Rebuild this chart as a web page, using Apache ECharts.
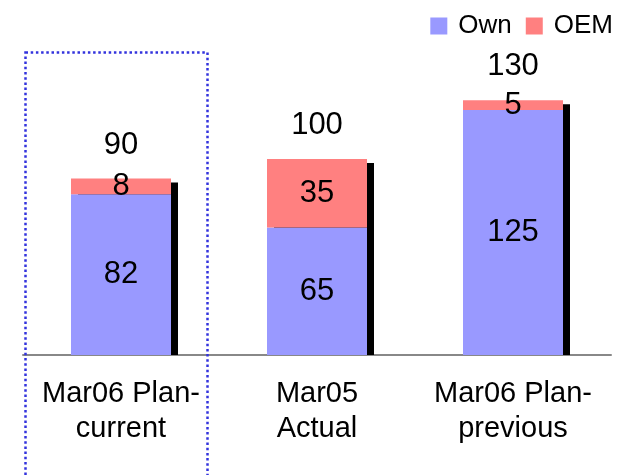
<!DOCTYPE html>
<html>
<head>
<meta charset="utf-8">
<script src="https://cdn.jsdelivr.net/npm/echarts@6/dist/echarts.min.js"></script>
<style>
  html, body { margin: 0; padding: 0; background: #fff; }
  #chart { width: 624px; height: 475px; }
</style>
</head>
<body>
<div id="chart"></div>
<script>
// Categories and stacked values
const categories = ['Mar06 Plan-\ncurrent', 'Mar05\nActual', 'Mar06 Plan-\nprevious'];
const ownValues = [82, 65, 125];
const oemValues = [8, 35, 5];
const totals = ownValues.map((v, i) => v + oemValues[i]);

const FONT = '"Liberation Sans", Arial, sans-serif';
const BAR_W = 100;

const chart = echarts.init(document.getElementById('chart'), null, { renderer: 'canvas' });

chart.setOption({
  backgroundColor: '#ffffff',
  animation: false,
  textStyle: { fontFamily: FONT },
  grid: { left: 23, right: 13, top: 61, bottom: 120, containLabel: false },
  legend: {
    right: 6,
    top: 8,
    itemWidth: 17,
    itemHeight: 17,
    itemGap: 14,
    icon: 'rect',
    data: ['Own', 'OEM'],
    textStyle: { fontSize: 26, color: '#000', fontFamily: FONT, padding: [0, 0, 0, 6] }
  },
  xAxis: {
    type: 'category',
    data: categories,
    axisTick: { show: false },
    axisLine: { lineStyle: { color: '#888', width: 2 } },
    axisLabel: {
      color: '#000',
      fontSize: 29,
      lineHeight: 35,
      margin: 21,
      fontFamily: FONT,
      interval: 0
    }
  },
  yAxis: {
    type: 'value',
    min: 0,
    max: 150,
    show: false,
    splitLine: { show: false }
  },
  series: [
    {
      // drop shadow behind each stacked column
      name: 'shadow',
      type: 'custom',
      z: 1,
      silent: true,
      data: totals.map((t, i) => [i, t]),
      renderItem: function (params, api) {
        const top = api.coord([api.value(0), api.value(1)]);
        const base = api.coord([api.value(0), 0]);
        return {
          type: 'rect',
          shape: {
            x: top[0] - BAR_W / 2 + 7,
            y: top[1] + 4,
            width: BAR_W,
            height: base[1] - top[1] - 4
          },
          style: { fill: '#000' }
        };
      }
    },
    {
      name: 'Own',
      type: 'bar',
      stack: 'total',
      z: 3,
      barWidth: BAR_W,
      data: ownValues,
      itemStyle: { color: '#9999FF' },
      label: {
        show: true,
        position: 'inside',
        color: '#000',
        fontSize: 31,
        fontFamily: FONT
      }
    },
    {
      name: 'OEM',
      type: 'bar',
      stack: 'total',
      z: 3,
      barWidth: BAR_W,
      data: oemValues,
      itemStyle: { color: '#FF8080' },
      label: {
        show: true,
        position: 'inside',
        color: '#000',
        fontSize: 31,
        fontFamily: FONT
      }
    },
    {
      // column totals above each stack
      name: 'total',
      type: 'scatter',
      z: 4,
      symbolSize: 0,
      silent: true,
      data: totals.map((t, i) => [i, t]),
      label: {
        show: true,
        position: 'top',
        distance: 18,
        color: '#000',
        opacity: 1,
        fontSize: 31,
        fontFamily: FONT,
        formatter: p => String(p.value[1])
      }
    }
  ],
  graphic: [
    {
      // dotted highlight frame around the first column
      type: 'rect',
      z: 10,
      silent: true,
      shape: { x: 25.5, y: 52.5, width: 182, height: 440 },
      style: {
        fill: 'none',
        stroke: '#3333dd',
        lineWidth: 2.5,
        lineDash: [2.5, 2.7]
      }
    }
  ]
});
</script>
</body>
</html>
